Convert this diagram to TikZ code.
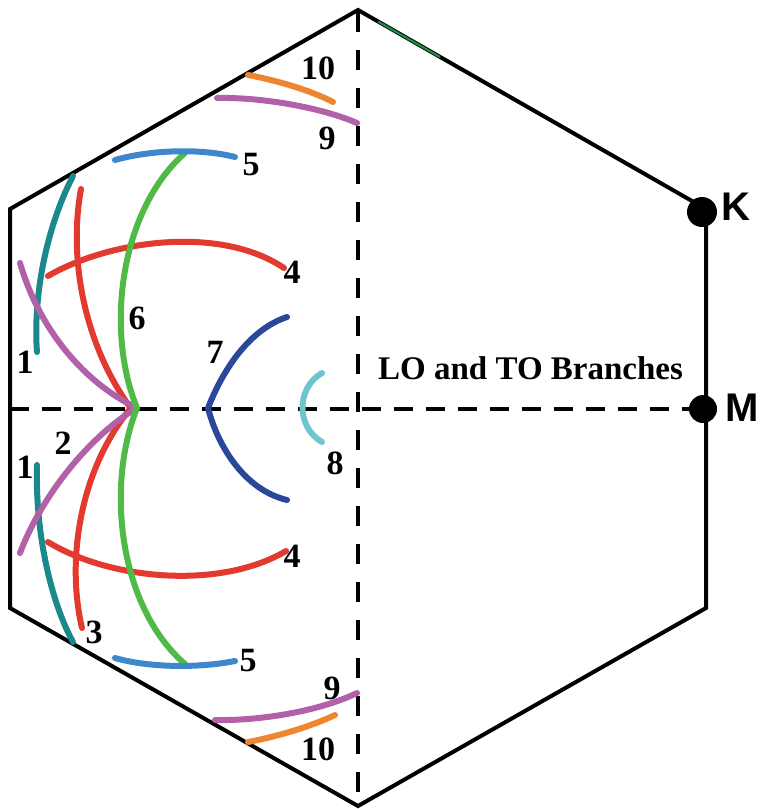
\documentclass[tikz,border=0pt]{standalone}
\usepackage{fontspec}
\setmainfont{Liberation Serif}
\newfontfamily\sanslbl{Liberation Sans}
\definecolor{cteal}{RGB}{26,136,140}
\definecolor{cred}{RGB}{226,58,46}
\definecolor{cgreen}{RGB}{80,186,72}
\definecolor{cblue}{RGB}{60,136,202}
\definecolor{cpurple}{RGB}{178,96,168}
\definecolor{cdblue}{RGB}{42,72,154}
\definecolor{ccyan}{RGB}{110,198,204}
\definecolor{corange}{RGB}{238,133,48}
\definecolor{cedge}{RGB}{30,140,70}
\begin{document}
\begin{tikzpicture}[x=1pt,y=-1pt,
  hexline/.style={line width=4pt,line join=miter,black},
  axisline/.style={line width=4.5pt,black},
  branch/.style={line width=6pt,line cap=round},
  num/.style={font=\bfseries\fontsize{34}{34}\selectfont,inner sep=0pt},
  titletext/.style={font=\bfseries\fontsize{33}{33}\selectfont,inner sep=0pt},
  sym/.style={font=\sanslbl\bfseries\fontsize{40}{40}\selectfont,inner sep=0pt},
  dotstyle/.style={circle,fill=black,inner sep=0pt}]
\useasboundingbox (0,0) rectangle (762,809);
% axes
\draw[axisline,dash pattern=on 19pt off 13pt] (10,409) -- (700,409);
\draw[axisline,dash pattern=on 20pt off 18pt] (358,12) -- (358,806);
% hexagon
\draw[hexline] (358,10) -- (706,209) -- (706,608) -- (358,806) -- (10,608) -- (10,209) -- cycle;
\draw[cedge,line width=2.2pt] (378,21.5) -- (440,57);
% teal 1
\draw[branch,cteal] (73,176) .. controls (45,230) and (33,300) .. (37,352);
\draw[branch,cteal] (37,465) .. controls (35,530) and (50,600) .. (73,642);
% red 2 / 3
\draw[branch,cred] (81,189) .. controls (68,260) and (85,345) .. (130,407);
\draw[branch,cred] (130,409) .. controls (80,470) and (66,560) .. (82,628);
% red 4
\draw[branch,cred] (48,276) .. controls (110,240) and (220,225) .. (284,268);
\draw[branch,cred] (48,542) .. controls (110,580) and (220,590) .. (286,551);
% purple
\draw[branch,cpurple] (20,263) .. controls (38,325) and (80,380) .. (135,407);
\draw[branch,cpurple] (20,553) .. controls (40,500) and (85,440) .. (135,409);
% green 6
\draw[branch,cgreen] (185,153) .. controls (120,210) and (105,330) .. (137,408);
\draw[branch,cgreen] (137,408) .. controls (105,488) and (120,608) .. (185,664);
% blue 5
\draw[branch,cblue] (115,160) .. controls (150,150) and (200,148) .. (235,157);
\draw[branch,cblue] (115,658) .. controls (150,668) and (200,668) .. (235,661);
% dark blue 7
\draw[branch,cdblue,line join=miter] (287,317) .. controls (248,330) and (222,372) .. (208,408)
  .. controls (218,447) and (245,490) .. (287,500);
% cyan 8
\draw[branch,ccyan] (322,373) .. controls (296,388) and (296,427) .. (322,442);
% purple 9
\draw[branch,cpurple] (217,98) .. controls (260,97) and (320,107) .. (357,123);
\draw[branch,cpurple] (215,720) .. controls (260,721) and (320,711) .. (357,693);
% orange 10
\draw[branch,corange] (248,75) .. controls (275,80) and (310,90) .. (333,102);
\draw[branch,corange] (248,742) .. controls (275,737) and (310,727) .. (335,715);
% points
\node[dotstyle,minimum size=30pt] (Kdot) at (702,212) {};
\node[dotstyle,minimum size=28pt] (Mdot) at (703,409) {};
\node[sym] (Klab) at (736,207) {K};
\node[sym] (Mlab) at (742,408) {M};
% labels
\node[num] (l10a) at (318,68) {10};
\node[num] (l9a) at (327,138) {9};
\node[num] (l5a) at (251,165) {5};
\node[num] (l4a) at (292,272) {4};
\node[num] (l6) at (137,318) {6};
\node[num] (l1a) at (25,362) {1};
\node[num] (l7) at (215,352) {7};
\node[num] (l8) at (335,463) {8};
\node[num] (l1b) at (25,467) {1};
\node[num] (l2) at (63,443) {2};
\node[num] (l3) at (94,632) {3};
\node[num] (l4b) at (292,556) {4};
\node[num] (l5b) at (248,661) {5};
\node[num] (l9b) at (332,688) {9};
\node[num] (l10b) at (318,749) {10};
\node[titletext,anchor=base west] (title) at (378,379) {LO and TO Branches};
\end{tikzpicture}
\end{document}
